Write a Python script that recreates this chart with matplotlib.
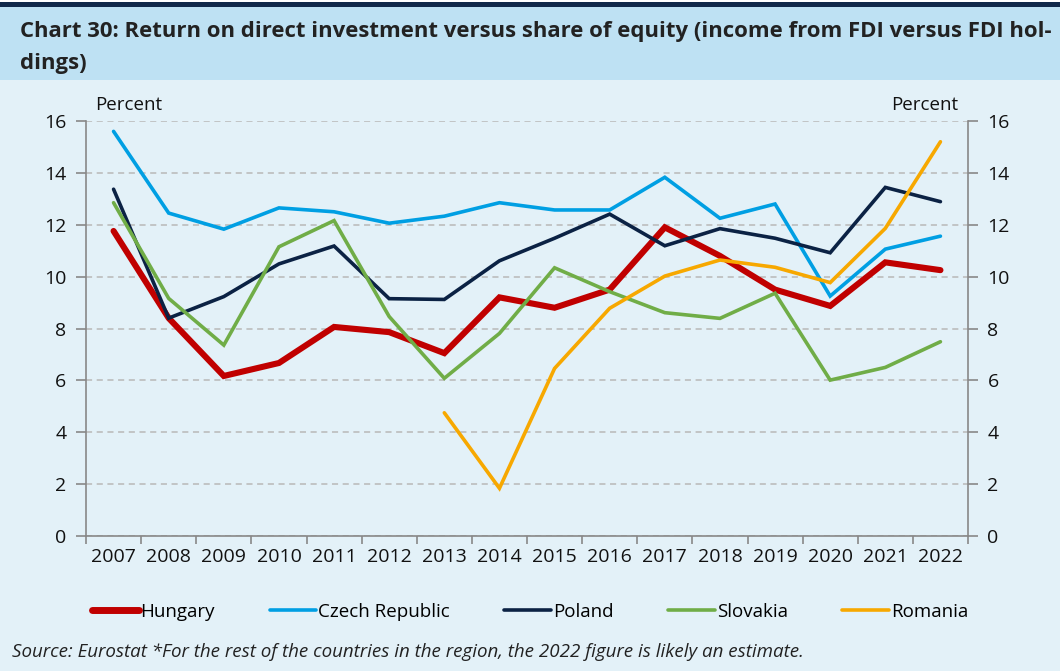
import numpy as np
import matplotlib
matplotlib.use("Agg")
from matplotlib import pyplot as plt
from matplotlib.patches import Rectangle
from matplotlib.lines import Line2D

plt.rcParams['font.family'] = ['Open Sans', 'DejaVu Sans']

years = [str(y) for y in range(2007, 2023)]

hungary = [11.76, 8.4, 6.17, 6.67, 8.06, 7.86, 7.05, 9.2, 8.8, 9.5, 11.9, 10.8, 9.5, 8.87, 10.55, 10.25]
czech = [15.6, 12.45, 11.83, 12.65, 12.5, 12.06, 12.33, 12.85, 12.57, 12.57, 13.83, 12.25, 12.8, 9.25, 11.06, 11.56]
poland = [13.37, 8.4, 9.23, 10.49, 11.18, 9.15, 9.12, 10.61, 11.48, 12.41, 11.19, 11.85, 11.48, 10.92, 13.44, 12.89]
slovakia = [12.85, 9.16, 7.36, 11.15, 12.16, 8.46, 6.08, 7.81, 10.34, 9.42, 8.61, 8.39, 9.36, 6.01, 6.5, 7.49]
romania = [np.nan] * 6 + [4.75, 1.84, 6.46, 8.78, 10.02, 10.64, 10.36, 9.77, 11.86, 15.2]

series = [
    ('Hungary', hungary, '#c00000', 4.4),
    ('Czech Republic', czech, '#009fe3', 2.6),
    ('Poland', poland, '#0b2244', 2.6),
    ('Slovakia', slovakia, '#70ad47', 2.6),
    ('Romania', romania, '#f7a800', 2.6),
]

bg = '#e3f1f8'
fig = plt.figure(figsize=(10.6, 6.71), dpi=100, facecolor=bg)

# title box and top band
fig.patches.append(Rectangle((0, 1 - 80 / 671), 1, 80 / 671, transform=fig.transFigure,
                             facecolor='#bee1f3', edgecolor='none', zorder=0))
fig.patches.append(Rectangle((0, 1 - 7 / 671), 1, 5 / 671, transform=fig.transFigure,
                             facecolor='#10284a', edgecolor='none', zorder=0))
fig.patches.append(Rectangle((0, 1 - 2 / 671), 1, 2 / 671, transform=fig.transFigure,
                             facecolor='white', edgecolor='none', zorder=0))
fig.text(20 / 1060, 1 - 32 / 671,
         'Chart 30: Return on direct investment versus share of equity (income from FDI versus FDI hol-',
         fontsize=15.9, fontweight='bold', color='#222222', va='center', ha='left')
fig.text(20 / 1060, 1 - 63 / 671, 'dings)',
         fontsize=15.9, fontweight='bold', color='#222222', va='center', ha='left')

ax = fig.add_axes([86 / 1060, 135 / 671, 882 / 1060, 415 / 671])
ax.set_facecolor(bg)
x = np.arange(len(years))
for name, vals, col, lw in series:
    ax.plot(x, vals, color=col, lw=lw, label=name, solid_capstyle='round', solid_joinstyle='miter', zorder=3)

ax.set_xlim(-0.5, len(years) - 0.5)
ax.set_ylim(0, 16)
ax.set_yticks(np.arange(0, 17, 2))
ax.yaxis.grid(True, color='#b8b8b8', ls=(0, (4, 3)), lw=1.1)
ax.set_axisbelow(True)

ax.set_xticks(x)
ax.set_xticklabels(years)
ax.set_xticks(np.arange(-0.5, len(years)), minor=True)
ax.tick_params(axis='x', which='major', length=0, labelsize=14, pad=9, labelcolor='#111111')
ax.tick_params(axis='x', which='minor', length=6, colors='#888888', width=1.2)
ax.tick_params(axis='y', length=7, colors='#888888', width=1.2, labelsize=14, labelcolor='#111111',
               pad=7, right=True, labelright=True)
for s in ['left', 'right', 'bottom']:
    ax.spines[s].set_color('#888888')
    ax.spines[s].set_linewidth(1.2)
ax.spines['top'].set_visible(False)

fig.text(95 / 1060, 1 - 105 / 671, 'Percent', fontsize=13.5, color='#111111', va='center', ha='left')
fig.text(958 / 1060, 1 - 105 / 671, 'Percent', fontsize=13.5, color='#111111', va='center', ha='right')

handles = [Line2D([], [], color=c, lw=lw if name != 'Hungary' else 5, solid_capstyle='round') for name, _, c, lw in series]
fig.legend(handles, [s[0] for s in series], loc='center', bbox_to_anchor=(0.5, 1 - 612 / 671),
           ncol=5, frameon=False, fontsize=13.5, handlelength=2.5, handletextpad=0.1,
           columnspacing=2.9)

fig.text(12 / 1060, 1 - 652 / 671,
         'Source: Eurostat *For the rest of the countries in the region, the 2022 figure is likely an estimate.',
         fontsize=13.5, style='italic', color='#222222', va='center', ha='left')

fig.savefig('out.png', dpi=100, facecolor=bg)
